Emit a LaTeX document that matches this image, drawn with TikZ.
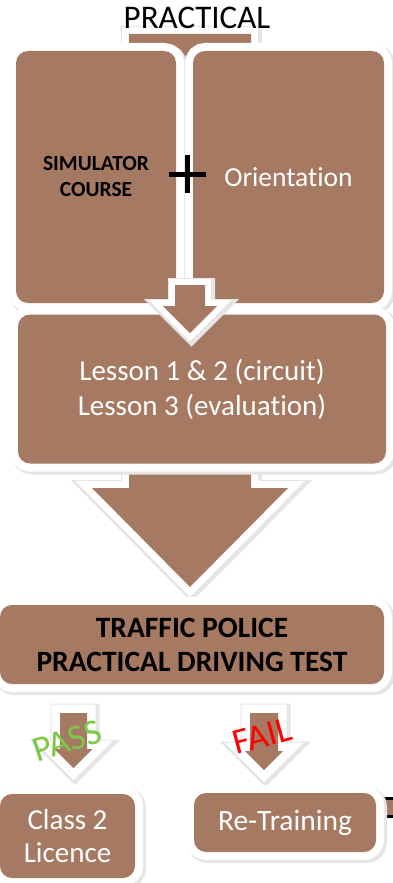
\documentclass[tikz,border=0pt]{standalone}
\usepackage{fontspec}
\setmainfont{Carlito}[Ligatures={NoCommon,NoContextual}]

\definecolor{clay}{RGB}{166,121,99}
\definecolor{passgreen}{RGB}{125,200,70}
\definecolor{failred}{RGB}{255,0,0}

\tikzset{
  box/.style={rounded corners=12pt, fill=clay, inner sep=0pt, align=center,
    preaction={draw=black!10, line width=18pt,
      transform canvas={xshift=2pt, yshift=-2pt}},
    preaction={draw=white, line width=16pt}},
  blockarrow/.style={fill=clay,
    preaction={draw=black!10, fill=black!10, line width=#1+5pt,
      transform canvas={xshift=1.5pt, yshift=-1.5pt}},
    preaction={draw=white, line width=#1}},
}

\begin{document}
\begin{tikzpicture}[x=1pt, y=-1pt]
  \useasboundingbox (0,0) rectangle (392,883);

  \fill[blockarrow=14pt] (129,34) -- (251,34) -- (251,488) -- (288,488)
    -- (190,587) -- (92,488) -- (129,488) -- cycle;

  \node[box, minimum width=160pt, minimum height=252pt,
    font=\bfseries\fontsize{21.5}{26}\selectfont] (sim) at (96,177) {SIMULATOR\\COURSE};
  \node[box, minimum width=191pt, minimum height=252pt, text=white,
    font=\fontsize{27.5}{32}\selectfont] (orient) at (288.5,177) {Orientation};
  \node[box, minimum width=368pt, minimum height=149pt, text=white,
    font=\fontsize{29}{35}\selectfont] (lesson) at (202,389)
    {Lesson 1 \& 2 (circuit)\\Lesson 3 (evaluation)};

  \fill[blockarrow=12pt] (175,285) -- (205,285) -- (205,306) -- (217,306)
    -- (190,333) -- (163,306) -- (175,306) -- cycle;
  \draw[line width=5pt] (169,174) -- (206,174) (187,155) -- (187,193);

  \node[box, minimum width=384pt, minimum height=79pt,
    font=\bfseries\fontsize{29.5}{34}\selectfont] (test) at (192,644.5)
    {TRAFFIC POLICE\\PRACTICAL DRIVING TEST};

  \fill[blockarrow=17pt] (60,713) -- (87,713) -- (87,749) -- (92.5,749)
    -- (73.5,768) -- (54.5,749) -- (60,749) -- cycle;
  \fill[blockarrow=17pt] (250,713) -- (278,713) -- (278,751) -- (283,751)
    -- (264,770) -- (245,751) -- (250,751) -- cycle;
  \node[rotate=18, text=passgreen, font=\fontsize{36}{36}\selectfont] (pass) at (67,741) {PASS};
  \node[rotate=15, text=failred, font=\fontsize{36}{36}\selectfont] (fail) at (262,736) {FAIL};

  \draw[fill=clay, line width=3pt] (384,798) rectangle (400,816);
  \node[box, minimum width=135pt, minimum height=84pt, text=white,
    font=\fontsize{29}{33}\selectfont] (licence) at (67.5,836) {Class 2\\Licence};
  \node[box, minimum width=182pt, minimum height=59pt, text=white,
    font=\fontsize{29.5}{34}\selectfont] (retrain) at (285,822.5) {Re-Training};

  \node[font=\fontsize{33}{38}\selectfont] (title) at (197,18) {PRACTICAL};
\end{tikzpicture}
\end{document}
